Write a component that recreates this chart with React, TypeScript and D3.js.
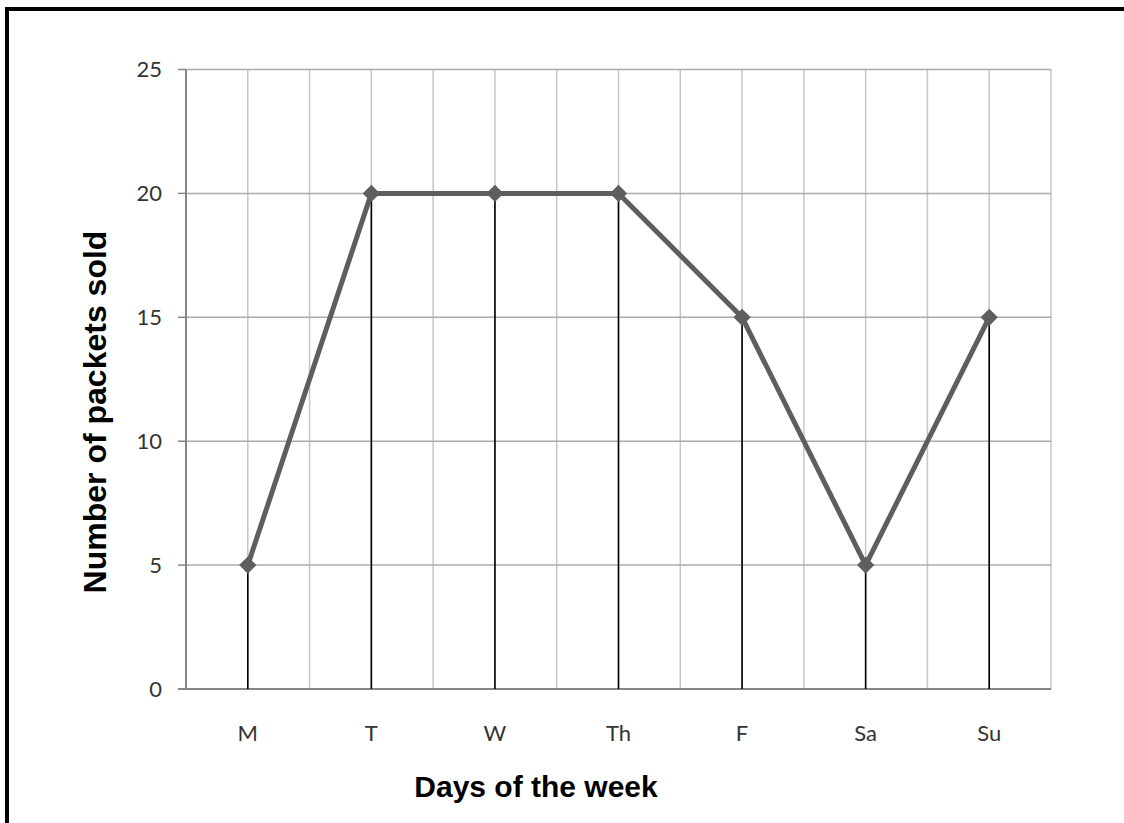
import React from 'react';
import * as d3 from 'd3';

const days = ['M', 'T', 'W', 'Th', 'F', 'Sa', 'Su'];
const packetsSold = [5, 20, 20, 20, 15, 5, 15];
const yTicks = [0, 5, 10, 15, 20, 25];

const WIDTH = 1124;
const HEIGHT = 823;
const plot = { left: 186, right: 1051, top: 69.5, bottom: 689 };

const App = () => {
  const x = d3.scaleBand<string>().domain(days).range([plot.left, plot.right]).padding(0);
  const y = d3.scaleLinear().domain([0, 25]).range([plot.bottom, plot.top]);
  const bw = x.bandwidth();
  const cx = (d: string) => (x(d) as number) + bw / 2;

  // vertical gridlines at every half category
  const vGrid: number[] = [];
  days.forEach((d) => {
    vGrid.push(cx(d));
    vGrid.push((x(d) as number) + bw);
  });

  const points = days.map((d, i) => ({ day: d, value: packetsSold[i] }));

  const line = d3
    .line<{ day: string; value: number }>()
    .x((d) => cx(d.day))
    .y((d) => y(d.value));

  const diamond = d3.symbol().type(d3.symbolDiamond2).size(190)();

  const labelFont = 'Lato, "Open Sans", sans-serif';
  const titleFont = '"Liberation Sans", Arial, sans-serif';

  return (
    <svg
      width={WIDTH}
      height={HEIGHT}
      style={{ position: 'absolute', left: 0, top: 0, background: '#fff' }}
    >
      {/* frame: top and left only */}
      <rect x={5} y={7} width={WIDTH - 5} height={4} fill="#000" />
      <rect x={5} y={7} width={4} height={HEIGHT - 7} fill="#000" />

      {/* vertical gridlines */}
      {vGrid.map((gx, i) => (
        <line key={'v' + i} x1={gx} x2={gx} y1={plot.top} y2={plot.bottom} stroke="#c6c6c6" strokeWidth={1.5} />
      ))}

      {/* horizontal gridlines + ticks */}
      {yTicks.filter((t) => t > 0).map((t) => (
        <line key={'h' + t} x1={plot.left} x2={plot.right} y1={y(t)} y2={y(t)} stroke="#ababab" strokeWidth={1.5} />
      ))}
      {yTicks.map((t) => (
        <line key={'t' + t} x1={plot.left - 8} x2={plot.left} y1={y(t)} y2={y(t)} stroke="#868686" strokeWidth={1.5} />
      ))}

      {/* axes */}
      <line x1={plot.left} x2={plot.left} y1={plot.top} y2={plot.bottom} stroke="#868686" strokeWidth={2} />
      <line x1={plot.left - 8} x2={plot.right} y1={plot.bottom} y2={plot.bottom} stroke="#868686" strokeWidth={2} />

      {/* drop lines */}
      {points.map((p) => (
        <line key={'d' + p.day} x1={cx(p.day)} x2={cx(p.day)} y1={y(p.value)} y2={plot.bottom} stroke="#000" strokeWidth={1.6} />
      ))}

      {/* series */}
      <path d={line(points) ?? ''} fill="none" stroke="#5e5e5e" strokeWidth={5} strokeLinejoin="round" />
      {points.map((p) => (
        <path key={'m' + p.day} d={diamond ?? ''} transform={`translate(${cx(p.day)},${y(p.value)})`} fill="#5e5e5e" />
      ))}

      {/* y tick labels */}
      {yTicks.map((t) => (
        <text
          key={'yl' + t}
          x={162}
          y={y(t)}
          dy="0.36em"
          textAnchor="end"
          fontFamily={labelFont}
          fontSize={22}
          fill="#333"
        >
          {t}
        </text>
      ))}

      {/* x labels */}
      {days.map((d) => (
        <text key={'xl' + d} x={cx(d)} y={741} textAnchor="middle" fontFamily={labelFont} fontSize={22} fill="#333">
          {d}
        </text>
      ))}

      {/* axis titles */}
      <text x={536} y={797} textAnchor="middle" fontFamily={titleFont} fontWeight="bold" fontSize={30} fill="#000">
        Days of the week
      </text>
      <text
        transform={`translate(106,412) rotate(-90)`}
        textAnchor="middle"
        fontFamily={titleFont}
        fontWeight="bold"
        fontSize={32}
        fill="#000"
      >
        Number of packets sold
      </text>
    </svg>
  );
};

export default App;
